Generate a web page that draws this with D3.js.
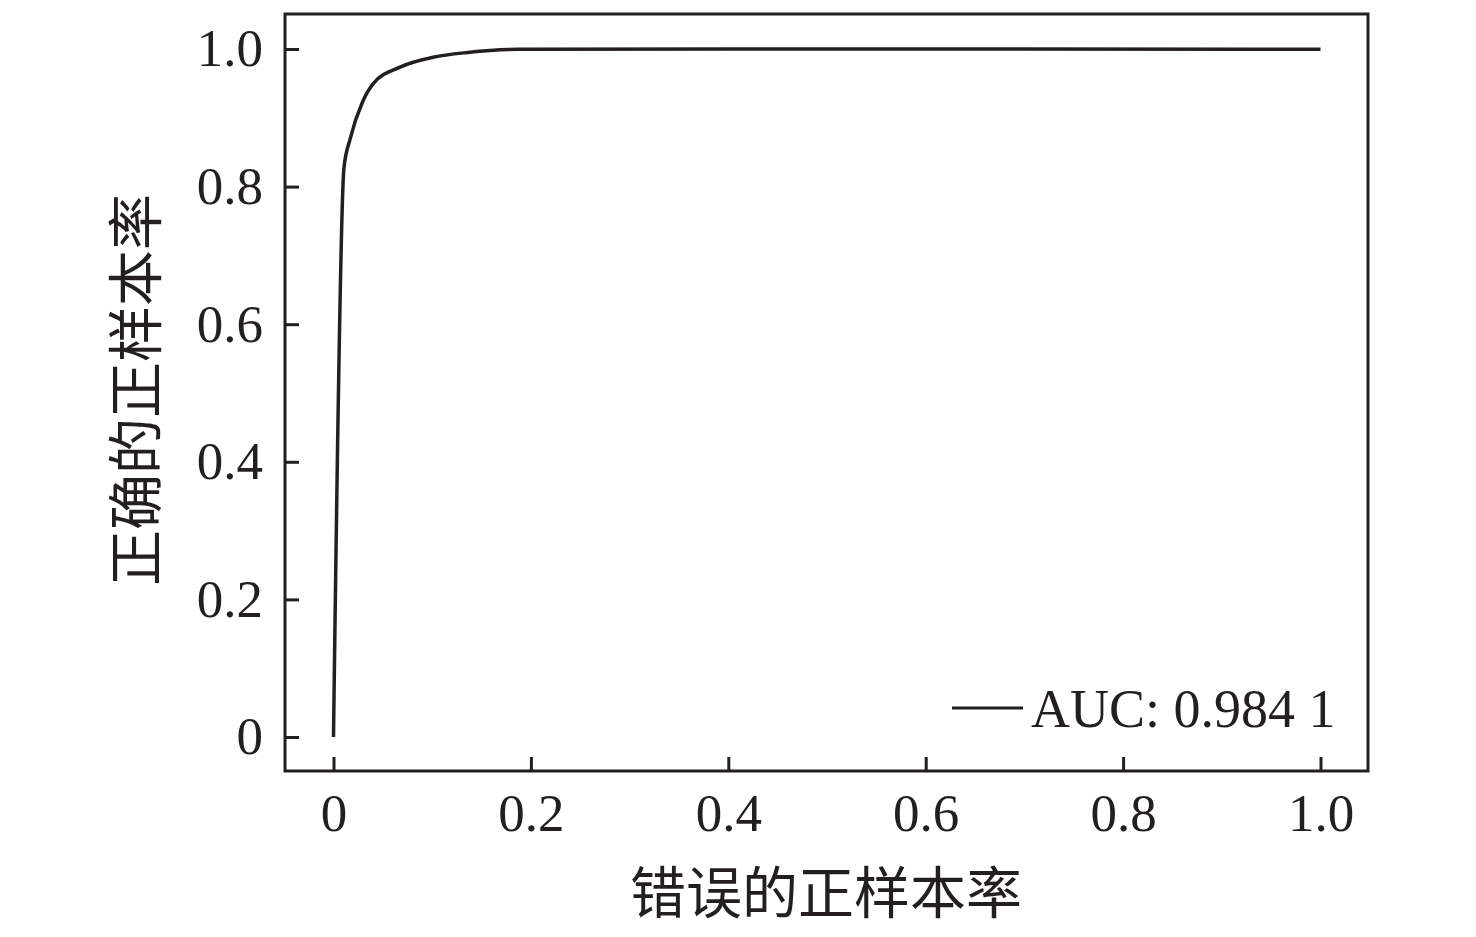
<!DOCTYPE html>
<html><head><meta charset="utf-8">
<script src="https://cdn.jsdelivr.net/npm/d3@7"></script>
<style>body{margin:0;background:#fff}svg text{fill:#231f20}</style>
</head><body>
<svg id="c" width="1476" height="937"></svg>
<script>
const fpr = [0, 0.0106, 0.017, 0.0294, 0.0405, 0.068, 0.101, 0.136, 0.186, 0.4, 0.7, 1.0];
const tpr = [0, 0.827, 0.870, 0.923, 0.950, 0.974, 0.988, 0.995, 0.9995, 1.0, 1.0, 0.9995];
const xTicks = [0, 0.2, 0.4, 0.6, 0.8, 1.0];
const yTicks = [0, 0.2, 0.4, 0.6, 0.8, 1.0];
const tickLabels = ["0", "0.2", "0.4", "0.6", "0.8", "1.0"];
const legendLabel = "AUC: 0.984 1";
const xTitle = "错误的正样本率";
const yTitle = "正确的正样本率";

const svg = d3.select("#c");
const font = "'Liberation Serif','Times New Roman','Noto Sans CJK SC',serif";
const col = "#231f20";
const L = 285, R = 1368, T = 14, B = 771;
const x = d3.scaleLinear().domain([0, 1]).range([333.5, 1320.5]);
const y = d3.scaleLinear().domain([0, 1]).range([737, 49]);

// frame
svg.append("rect").attr("x", L).attr("y", T).attr("width", R - L).attr("height", B - T)
  .attr("fill", "none").attr("stroke", col).attr("stroke-width", 3);

// x axis ticks (inside) and labels
const xa = svg.append("g").attr("transform", `translate(0,${B})`)
  .call(d3.axisBottom(x).tickValues(xTicks).tickSize(-14).tickPadding(22)
    .tickFormat((d, i) => tickLabels[i]));
xa.select(".domain").remove();
xa.selectAll("line").attr("stroke", col).attr("stroke-width", 3);
xa.selectAll("text").attr("font-family", font).attr("font-size", 53).attr("fill", col);

const ya = svg.append("g").attr("transform", `translate(${L},0)`)
  .call(d3.axisLeft(y).tickValues(yTicks).tickSize(-14).tickPadding(22)
    .tickFormat((d, i) => tickLabels[i]));
ya.select(".domain").remove();
ya.selectAll("line").attr("stroke", col).attr("stroke-width", 3);
ya.selectAll("text").attr("font-family", font).attr("font-size", 53).attr("fill", col);

// curve
const pts = fpr.map((d, i) => [d, tpr[i]]);
svg.append("path").datum(pts)
  .attr("d", d3.line().x(d => x(d[0])).y(d => y(d[1])).curve(d3.curveMonotoneX))
  .attr("fill", "none").attr("stroke", col).attr("stroke-width", 3.5);

// legend
svg.append("line").attr("x1", 952).attr("x2", 1023).attr("y1", 708).attr("y2", 708)
  .attr("stroke", col).attr("stroke-width", 3);
svg.append("text").attr("x", 1031).attr("y", 727).attr("font-family", font)
  .attr("font-size", 54).text(legendLabel);

// titles
svg.append("text").attr("x", 826).attr("y", 913).attr("text-anchor", "middle")
  .attr("font-family", font).attr("font-size", 56).text(xTitle);
svg.append("text").attr("transform", "translate(156,390) rotate(-90)").attr("text-anchor", "middle")
  .attr("font-family", font).attr("font-size", 56).text(yTitle);
</script>
</body></html>
